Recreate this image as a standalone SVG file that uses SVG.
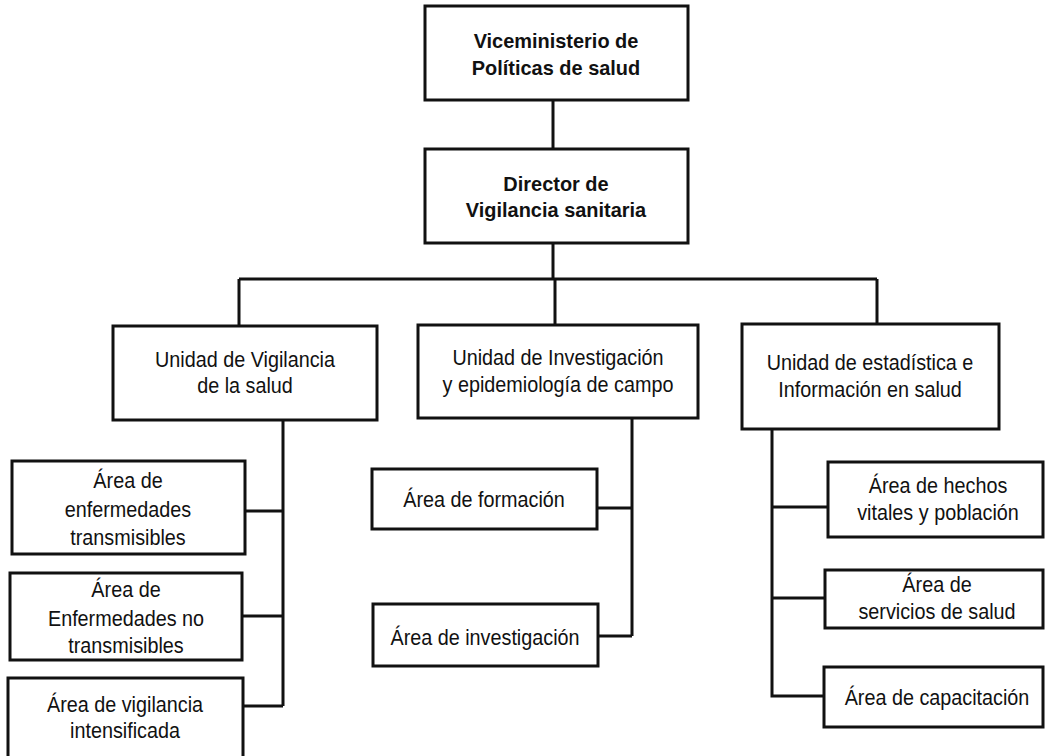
<svg xmlns="http://www.w3.org/2000/svg" width="1047" height="756" viewBox="0 0 1047 756">
<style>
rect{fill:#fff;stroke:#111;stroke-width:3}
text{font-family:"Liberation Sans",Arial,sans-serif;font-size:22px;fill:#111;text-anchor:middle}
.b{font-weight:bold;font-size:21px}
#connectors path{fill:none;stroke:#111;stroke-width:3}
</style>
<rect x="0" y="0" width="1047" height="756" style="fill:#fff;stroke:none"/>
<g id="connectors">
<path d="M553 100V149"/>
<path d="M553 243V279"/>
<path d="M239 279H877"/>
<path d="M239 279V325M555 279V324M877 279V324"/>
<path d="M283 421V706M245 511H283M242 616H283M243 706H283"/>
<path d="M632 419V636M597 508H632M598 636H632"/>
<path d="M772 430V696H824M772 507H828M772 598H825"/>
</g>
<g id="vice"><rect x="425" y="6" width="263" height="94"/><g transform="translate(556 0) scale(0.95 1)"><text class="b" x="0" y="48">Viceministerio de</text><text class="b" x="0" y="75">Políticas de salud</text></g></g>
<g id="director"><rect x="425" y="149" width="263" height="94"/><g transform="translate(556 0) scale(0.95 1)"><text class="b" x="0" y="191">Director de</text><text class="b" x="0" y="217">Vigilancia sanitaria</text></g></g>
<g id="unidad-vigilancia"><rect x="113" y="326" width="264" height="94"/><g transform="translate(245 0) scale(0.9 1)"><text x="0" y="367">Unidad de Vigilancia</text><text x="0" y="393">de la salud</text></g></g>
<g id="unidad-investigacion"><rect x="418" y="325" width="280" height="93"/><g transform="translate(558 0) scale(0.9 1)"><text x="0" y="365">Unidad de Investigación</text><text x="0" y="392">y epidemiología de campo</text></g></g>
<g id="unidad-estadistica"><rect x="742" y="324" width="257" height="105"/><g transform="translate(870 0) scale(0.9 1)"><text x="0" y="370">Unidad de estadística e</text><text x="0" y="397">Información en salud</text></g></g>
<g id="area-transmisibles"><rect x="12" y="461" width="233" height="93"/><g transform="translate(128 0) scale(0.9 1)"><text x="0" y="488">Área de</text><text x="0" y="517">enfermedades</text><text x="0" y="545">transmisibles</text></g></g>
<g id="area-no-transmisibles"><rect x="10" y="573" width="232" height="87"/><g transform="translate(126 0) scale(0.9 1)"><text x="0" y="597">Área de</text><text x="0" y="626">Enfermedades no</text><text x="0" y="653">transmisibles</text></g></g>
<g id="area-vigilancia-intensificada"><rect x="8" y="678" width="235" height="90"/><g transform="translate(125 0) scale(0.9 1)"><text x="0" y="712">Área de vigilancia</text><text x="0" y="738">intensificada</text></g></g>
<g id="area-formacion"><rect x="372" y="469" width="225" height="60"/><g transform="translate(484 0) scale(0.9 1)"><text x="0" y="507">Área de formación</text></g></g>
<g id="area-investigacion"><rect x="373" y="604" width="225" height="62"/><g transform="translate(485 0) scale(0.9 1)"><text x="0" y="645">Área de investigación</text></g></g>
<g id="area-hechos"><rect x="828" y="462" width="215" height="75"/><g transform="translate(938 0) scale(0.9 1)"><text x="0" y="493">Área de hechos</text><text x="0" y="520">vitales y población</text></g></g>
<g id="area-servicios"><rect x="825" y="570" width="218" height="58"/><g transform="translate(937 0) scale(0.9 1)"><text x="0" y="592">Área de</text><text x="0" y="619">servicios de salud</text></g></g>
<g id="area-capacitacion"><rect x="824" y="667" width="219" height="60"/><g transform="translate(937 0) scale(0.9 1)"><text x="0" y="705">Área de capacitación</text></g></g>
</svg>
